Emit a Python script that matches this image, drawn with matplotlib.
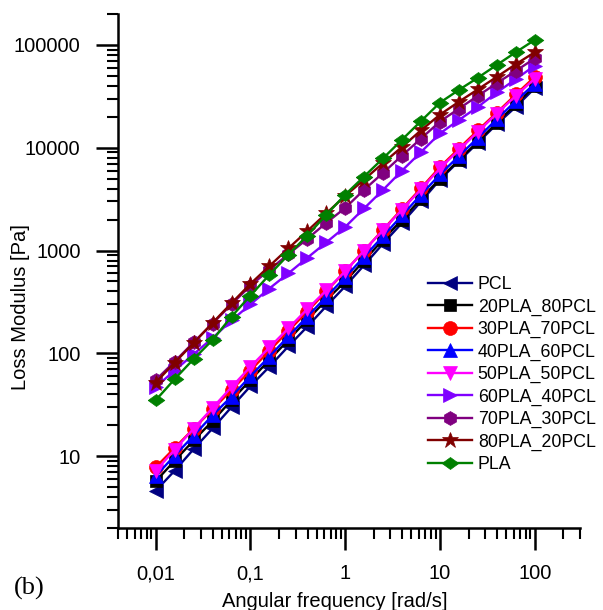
import matplotlib
matplotlib.use("Agg")
import matplotlib.pyplot as plt
from matplotlib.ticker import LogLocator, FixedLocator, FixedFormatter, NullFormatter

plt.rcParams['font.family'] = ['Liberation Sans', 'DejaVu Sans']

freq = [0.01, 0.0158, 0.0251, 0.0398, 0.0631, 0.1, 0.158, 0.251, 0.398, 0.631,
        1.0, 1.58, 2.51, 3.98, 6.31, 10.0, 15.8, 25.1, 39.8, 63.1, 100.0]

pcl = [4.6, 7.2, 11.7, 18.6, 30, 48, 74, 117, 182, 288, 450, 720, 1170, 1860,
       3000, 4900, 7400, 11200, 17000, 25000, 38000]
pla20 = [5.7, 9.0, 14.2, 22, 35, 55, 86, 135, 212, 330, 500, 800, 1280, 2000,
         3200, 5000, 7600, 11500, 17500, 26500, 40000]
pla30 = [7.8, 12.0, 18.5, 28.5, 44, 68, 106, 165, 255, 400, 630, 1000, 1600,
         2550, 4050, 6500, 9800, 14800, 22000, 33000, 49000]
pla40 = [6.4, 10.1, 15.8, 25, 38, 60, 93, 146, 228, 355, 550, 870, 1380, 2200,
         3500, 5500, 8300, 12500, 19000, 28500, 42000]
pla50 = [7.2, 11.5, 18.5, 29.5, 47, 74, 114, 175, 270, 410, 630, 1000, 1580,
         2500, 3950, 6300, 9500, 14300, 21500, 32000, 47000]
pla60 = [47, 68, 98, 141, 209, 300, 427, 600, 850, 1200, 1700, 2570, 3900, 6000,
         9100, 13800, 18600, 25000, 34500, 46500, 63000]
pla70 = [55, 83, 128, 195, 300, 455, 650, 920, 1300, 1860, 2600, 3900, 5700,
         8400, 12300, 18000, 24000, 32000, 42500, 56000, 74000]
pla80 = [52, 81, 126, 198, 308, 475, 705, 1050, 1550, 2300, 3400, 4900, 7100,
         10200, 14800, 21000, 28000, 37000, 49000, 65000, 85000]
pla = [35, 56, 88, 135, 228, 365, 580, 910, 1400, 2230, 3500, 5250, 7900, 12000,
       18200, 27500, 36500, 48000, 64000, 85000, 112000]

labels = ["PCL", "20PLA_80PCL", "30PLA_70PCL", "40PLA_60PCL", "50PLA_50PCL",
          "60PLA_40PCL", "70PLA_30PCL", "80PLA_20PCL", "PLA"]
series = [pcl, pla20, pla30, pla40, pla50, pla60, pla70, pla80, pla]
colors = ["#000080", "#000000", "#FF0000", "#0000FF", "#FF00FF",
          "#8000FF", "#800080", "#800000", "#008000"]
wide_diamond = [(-1, 0), (0, 0.72), (1, 0), (0, -0.72), (-1, 0)]
markers = ["<", "s", "o", "^", "v", ">", "h", "*", wide_diamond]
msizes = [10, 8.5, 10, 10, 10, 10, 10, 12, 12]

xticks = [0.01, 0.1, 1, 10, 100]
xticklabels = ["0,01", "0,1", "1", "10", "100"]
yticks = [10, 100, 1000, 10000, 100000]
yticklabels = ["10", "100", "1000", "10000", "100000"]

fig = plt.figure(figsize=(6.03, 6.10), dpi=100)
ax = fig.add_axes([118/603, 1-528/610, (580-118)/603, (528-14)/610])

for y, lab, c, m, ms in zip(series, labels, colors, markers, msizes):
    ax.plot(freq, y, color=c, marker=m, markersize=ms, linewidth=1.7,
            label=lab, markeredgewidth=0.5, markeredgecolor=c)

ax.set_xscale('log')
ax.set_yscale('log')
ax.set_xlim(0.004, 300)
ax.set_ylim(2, 200000)

ax.xaxis.set_major_locator(FixedLocator(xticks))
ax.xaxis.set_major_formatter(FixedFormatter(xticklabels))
ax.yaxis.set_major_locator(FixedLocator(yticks))
ax.yaxis.set_major_formatter(FixedFormatter(yticklabels))
ax.xaxis.set_minor_locator(LogLocator(base=10, subs=range(2, 10), numticks=20))
ax.yaxis.set_minor_locator(LogLocator(base=10, subs=range(2, 10), numticks=20))
ax.xaxis.set_minor_formatter(NullFormatter())
ax.yaxis.set_minor_formatter(NullFormatter())

for s in ['top', 'right']:
    ax.spines[s].set_visible(False)
for s in ['left', 'bottom']:
    ax.spines[s].set_linewidth(1.8)

ax.tick_params(which='major', direction='out', length=16, width=1.8,
               labelsize=14.5, pad=11)
ax.tick_params(which='minor', direction='out', length=8, width=1.5)
ax.tick_params(axis='x', which='major', pad=10)

ax.set_xlabel("Angular frequency [rad/s]", fontsize=14.5, labelpad=2)
ax.xaxis.set_label_coords(0.47, -0.125)
ax.set_ylabel("Loss Modulus [Pa]", fontsize=14.5)
ax.yaxis.set_label_coords(-0.19, 0.43)

leg = ax.legend(loc='upper left', bbox_to_anchor=(428/603, 1-276/610),
                bbox_transform=fig.transFigure, frameon=False, fontsize=12.8,
                borderpad=0, borderaxespad=0, handlelength=2.5,
                handletextpad=0.3, labelspacing=0.3)

fig.text(14/603, 1-588/610, "(b)", family=['Liberation Serif', 'DejaVu Serif'],
         fontsize=19, va='center', ha='left')

fig.savefig("out.png", dpi=100)
